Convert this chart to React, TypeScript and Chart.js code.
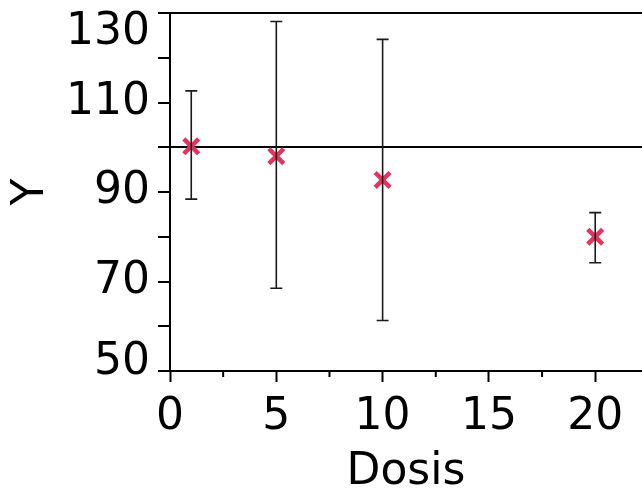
import React, { useEffect, useRef } from 'react';
import { Chart, registerables } from 'chart.js';

Chart.register(...registerables);

const doses = [1, 5, 10, 20];
const means = [100.2, 98.0, 92.7, 80.0];
const upper = [112.6, 128.1, 124.1, 85.4];
const lower = [88.4, 68.5, 61.3, 74.2];
const yLabelValues = [50, 70, 90, 110, 130];
const xLabelValues = [0, 5, 10, 15, 20];
const refLines = [100, 130];

const FONT = "'DejaVu Sans', sans-serif";

const errorBarPlugin = {
  id: 'errorBars',
  afterDatasetsDraw(chart: any) {
    const { ctx, scales } = chart;
    const xs = scales.x;
    const ys = scales.y;
    ctx.save();
    ctx.strokeStyle = '#1a1a1a';
    ctx.lineWidth = 1.6;
    for (let i = 0; i < doses.length; i++) {
      const x = xs.getPixelForValue(doses[i]);
      const yt = ys.getPixelForValue(upper[i]);
      const yb = ys.getPixelForValue(lower[i]);
      ctx.beginPath();
      ctx.moveTo(x, yt);
      ctx.lineTo(x, yb);
      ctx.moveTo(x - 6, yt);
      ctx.lineTo(x + 6, yt);
      ctx.moveTo(x - 6, yb);
      ctx.lineTo(x + 6, yb);
      ctx.stroke();
    }
    // minor x ticks (shorter)
    ctx.strokeStyle = '#000';
    ctx.lineWidth = 2;
    const bottom = chart.chartArea.bottom;
    xs.ticks.forEach((t: any) => {
      if (Math.abs(t.value % 5) > 1e-6) {
        const px = xs.getPixelForValue(t.value);
        ctx.beginPath();
        ctx.moveTo(px, bottom);
        ctx.lineTo(px, bottom + 6);
        ctx.stroke();
      }
    });
    ctx.restore();
  },
};

export default function App() {
  const ref = useRef<HTMLCanvasElement | null>(null);
  useEffect(() => {
    if (!ref.current) return;
    const chart = new Chart(ref.current, {
      type: 'scatter',
      data: {
        datasets: [
          {
            data: doses.map((d, i) => ({ x: d, y: means[i] })),
            pointStyle: 'crossRot',
            pointRadius: 10.5,
            pointHoverRadius: 10.5,
            pointBorderWidth: 4.5,
            borderColor: '#e6335d',
            backgroundColor: '#e6335d',
            showLine: false,
          },
        ],
      },
      options: {
        animation: false,
        responsive: false,
        devicePixelRatio: 1,
        events: [],
        layout: { autoPadding: false, padding: { top: 13, left: 0, right: 0, bottom: 0 } },
        plugins: { legend: { display: false }, tooltip: { enabled: false } },
        scales: {
          x: {
            type: 'linear',
            min: 0,
            max: 22.2,
            border: { display: true, color: '#000', width: 2 },
            grid: {
              drawOnChartArea: false,
              drawTicks: true,
              tickLength: 11,
              tickWidth: 2,
              tickColor: (c: any) =>
                c.tick && xLabelValues.includes(c.tick.value) ? '#000' : 'rgba(0,0,0,0)',
            },
            ticks: {
              stepSize: 2.5,
              includeBounds: false,
              autoSkip: false,
              maxRotation: 0,
              padding: 9,
              color: '#000',
              font: { family: FONT, size: 44 },
              callback: (v: any) => (xLabelValues.includes(Number(v)) ? String(v) : ''),
            },
            title: {
              display: true,
              text: 'Dosis',
              color: '#000',
              font: { family: FONT, size: 44 },
              padding: { top: 0, bottom: -8 },
            },
            afterFit: (s: any) => {
              s.height = 120;
              s.paddingLeft = 0;
              s.paddingRight = 0;
            },
          },
          y: {
            type: 'linear',
            min: 50,
            max: 130,
            border: { display: true, color: '#000', width: 2 },
            grid: {
              drawOnChartArea: true,
              drawTicks: true,
              tickLength: 12,
              lineWidth: 2,
              tickWidth: 2,
              tickColor: '#000',
              color: (c: any) =>
                c.tick && refLines.includes(c.tick.value) ? '#000' : 'rgba(0,0,0,0)',
            },
            ticks: {
              stepSize: 10,
              autoSkip: false,
              padding: 8,
              color: '#000',
              font: (c: any) => {
                const v = c.tick ? c.tick.value : 0;
                if (v === 130) return { family: FONT, size: 44, lineHeight: '40px' };
                if (v === 50) return { family: FONT, size: 44, lineHeight: '16px' };
                return { family: FONT, size: 44 };
              },
              callback: (v: any) => {
                const n = Number(v);
                if (!yLabelValues.includes(n)) return '';
                if (n === 130) return ['', '130'];
                if (n === 50) return ['50', ''];
                return String(n);
              },
            },
            title: {
              display: true,
              text: 'Y',
              color: '#000',
              font: { family: FONT, size: 44 },
              padding: { top: 5, bottom: 0 },
            },
            afterFit: (s: any) => {
              s.width = 170;
              s.paddingTop = 0;
              s.paddingBottom = 0;
            },
          },
        },
      },
      plugins: [errorBarPlugin],
    } as any);
    return () => chart.destroy();
  }, []);
  return (
    <div style={{ position: 'absolute', left: 0, top: 0, width: 642, height: 491, background: '#fff' }}>
      <canvas ref={ref} width={642} height={491} style={{ display: 'block' }} />
    </div>
  );
}
